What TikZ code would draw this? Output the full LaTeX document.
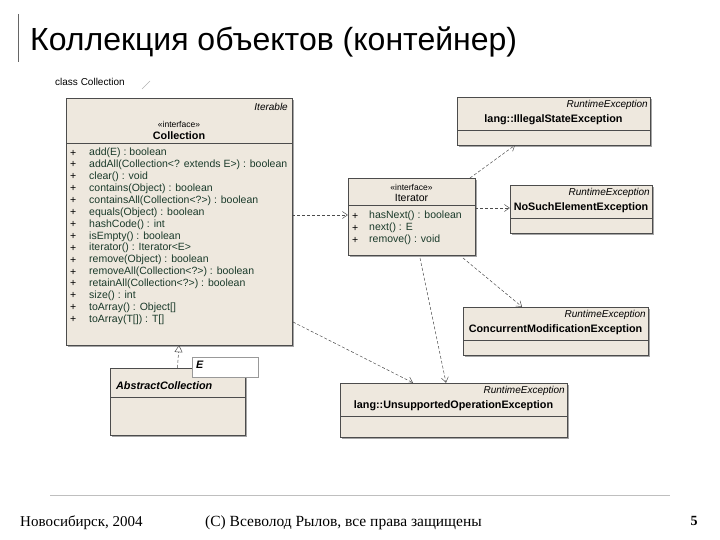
\documentclass[tikz,border=0pt]{standalone}
\usepackage{fontspec}
\setmainfont{Liberation Serif}
\setsansfont{Liberation Sans}
\usetikzlibrary{arrows.meta}
\definecolor{boxfill}{HTML}{EEE8DE}
\definecolor{mtext}{HTML}{1A3A2A}
\tikzset{
  cls/.style={draw=black!70,fill=boxfill,line width=0.6pt},
  shade/.style={fill=black!35},
  dep/.style={draw=black!70,dashed,dash pattern=on 3pt off 2pt,line width=0.5pt,-{Straight Barb[length=5pt,width=7pt]}},
  real/.style={draw=black!70,dashed,dash pattern=on 3pt off 2pt,line width=0.5pt,-{Triangle[open,length=7pt,width=8pt,fill=white]}},
  t/.style={font=\sffamily\fontsize{10.5}{11}\selectfont,inner sep=0pt,anchor=west},
  ti/.style={font=\sffamily\itshape\fontsize{10}{11}\selectfont,inner sep=0pt,anchor=east},
  tb/.style={font=\sffamily\bfseries\fontsize{10.8}{11}\selectfont,inner sep=0pt},
}
\begin{document}
\begin{tikzpicture}[x=1pt,y=-1pt]
\useasboundingbox (0,0) rectangle (720,540);
% title
\draw[black!60,line width=0.8pt] (18,14) -- (18,62);
\node[font=\sffamily\fontsize{32}{34}\selectfont,anchor=west,inner sep=0pt] (title) at (30,42) {Коллекция объектов (контейнер)};
% footer
\draw[black!25,line width=0.8pt] (50,495) -- (670,495);
\node[font=\fontsize{15}{16}\selectfont,anchor=west,inner sep=0pt] (f1) at (20,523) {Новосибирск, 2004};
\node[font=\fontsize{15.5}{16}\selectfont,anchor=west,inner sep=0pt] (f2) at (205,523) {(С) Всеволод Рылов, все права защищены};
\node[font=\bfseries\fontsize{14}{15}\selectfont,inner sep=0pt] (f3) at (694,521) {5};
% frame label
\node[font=\sffamily\fontsize{10}{11}\selectfont,anchor=west,inner sep=0pt] (fr) at (55,82) {class Collection};
\draw[black!30] (142,89) -- (150,81);
% Collection
\fill[shade] (68,100) rectangle (294,347);
\path[cls] (66,98) rectangle (292,345);
\node (coll) at (179,221.5) [minimum width=226pt,minimum height=247pt,inner sep=0pt] {};
\draw[black!70] (66,143) -- (292,143);
\node[ti] at (288,107) {Iterable};
\node[t,anchor=center,font=\sffamily\fontsize{8.5}{9}\selectfont] at (179,124) {«interface»};
\node[tb] at (179,136) {Collection};
\foreach \s/\m [count=\i from 0] in {+/add(E) : boolean,+/addAll(Collection<? extends E>) : boolean,+/clear() : void,+/contains(Object) : boolean,+/containsAll(Collection<?>) : boolean,+/equals(Object) : boolean,+/hashCode() : int,+/isEmpty() : boolean,+/iterator() : Iterator<E>,+/remove(Object) : boolean,+/removeAll(Collection<?>) : boolean,+/retainAll(Collection<?>) : boolean,+/size() : int,+/toArray() : Object[],+/toArray(T[]) : T[]}{
  \node[t] at (70,{153+11.9*\i}) {\s};
  \node[t,text=mtext] at (89,{153+11.9*\i}) {\m};
}
% AbstractCollection
\fill[shade] (112,370) rectangle (247,437);
\path[cls] (110,368) rectangle (245,435);
\draw[black!70] (110,397) -- (245,397);
\node (abs) at (177.5,401.5) [minimum width=135pt,minimum height=67pt,inner sep=0pt] {};
\node[font=\sffamily\bfseries\itshape\fontsize{10.8}{11}\selectfont,inner sep=0pt,anchor=west] at (116,386) {AbstractCollection};
\path[draw=black!40,fill=white] (192,357) rectangle (258,377);
\node[font=\sffamily\bfseries\itshape\fontsize{10.8}{11}\selectfont,inner sep=0pt,anchor=west] at (196,365) {E};
% Iterator
\fill[shade] (350,180) rectangle (477,257);
\path[cls] (348,178) rectangle (475,255);
\draw[black!70] (348,205) -- (475,205);
\node (it) at (411.5,216.5) [minimum width=127pt,minimum height=77pt,inner sep=0pt] {};
\node[t,anchor=center,font=\sffamily\fontsize{8.5}{9}\selectfont] at (411.5,187) {«interface»};
\node[t,anchor=center] at (411.5,198) {Iterator};
\foreach \m [count=\i from 0] in {hasNext() : boolean,next() : E,remove() : void}{
  \node[t] at (352,{216+12*\i}) {+};
  \node[t,text=mtext] at (369,{216+12*\i}) {\m};
}
% exceptions
\newcommand{\exbox}[6]{% name, x1,y1,x2,y2, text
  \fill[shade] (#2+2,#3+2) rectangle (#4+2,#5+2);
  \path[cls] (#2,#3) rectangle (#4,#5);
  \draw[black!70] (#2,#3+33) -- (#4,#3+33);
  \node (#1) at ({(#2+#4)/2},{(#3+#5)/2}) [minimum width=#4-#2,minimum height=#5-#3,inner sep=0pt] {};
  \node[ti] at (#4-2,#3+8) {RuntimeException};
  \node[tb,anchor=center] at ({(#2+#4)/2},#3+23) {#6};
}
\exbox{ise}{457}{97}{650}{145}{lang::IllegalStateException}
\exbox{nse}{510}{185}{652}{233}{NoSuchElementException}
\exbox{cme}{463}{307}{648}{355}{ConcurrentModificationException}
\exbox{uoe}{340}{383}{567}{437}{lang::UnsupportedOperationException}
% connectors
\draw[real] (abs.north) -- (coll.south);
\draw[dep] (coll.east |- 0,215) -- (it.west |- 0,215);
\draw[dep] (470,178) -- (ise.south -| 515,0);
\draw[dep] (it.east |- 0,208) -- (nse.west |- 0,208);
\draw[dep] (463,258) -- (cme.north -| 522,0);
\draw[dep] (420,258) -- (uoe.north -| 446,0);
\draw[dep] (293,322) -- (uoe.north -| 413,0);
\end{tikzpicture}
\end{document}
